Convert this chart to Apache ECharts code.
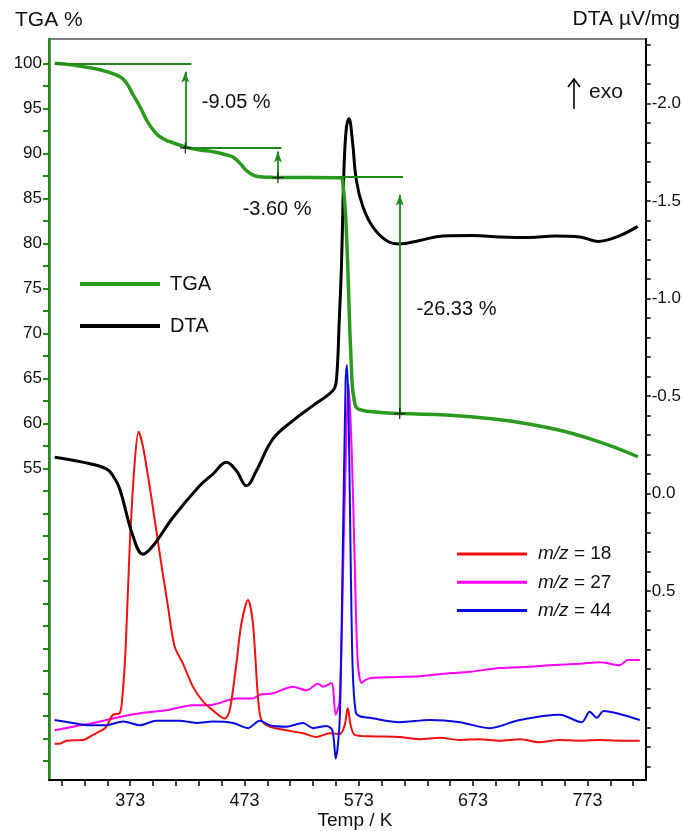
<!DOCTYPE html>
<html>
<head>
<meta charset="utf-8">
<script src="https://cdn.jsdelivr.net/npm/echarts/dist/echarts.min.js"></script>
<style>
  html, body { margin: 0; padding: 0; background: #fff; }
  #chart { width: 684px; height: 831px; }
</style>
</head>
<body>
<div id="chart"></div>
<script>
// TGA (%), left axis
var tgaT = [307.2, 323.3, 340.7, 352.5, 364.1, 369.9, 375.7, 381.6, 387.4, 393.2, 399.1, 407.8, 416.6, 422.4, 434.1, 445.7, 457.4, 463.2, 469.1, 474.9, 480.7, 486.5, 498.2, 556.5, 559, 562.2, 566.5, 569.4, 575.5, 590, 608.9, 652.7, 696.4, 722.6, 748.9, 775.1, 797.0, 817.1];
var tgaVal = [100, 99.8, 99.44, 99.07, 98.5, 97.78, 96.48, 95.18, 93.7, 92.59, 91.84, 91.29, 90.92, 90.66, 90.37, 90.18, 89.81, 89.56, 88.89, 88.07, 87.59, 87.4, 87.33, 87.29, 86.8, 81.1, 66.3, 62.25, 61.48, 61.25, 61.1, 60.92, 60.41, 59.91, 59.24, 58.3, 57.35, 56.3];

// DTA (µV/mg), right axis (inverted)
var dtaT = [307, 331.4, 352.2, 357.7, 363.8, 375.4, 384.2, 393, 410.4, 433.8, 445.4, 457.2, 465.9, 474.7, 483.4, 497.9, 515.4, 532.9, 550.4, 553.4, 555.9, 557.8, 560.1, 562.2, 564.4, 567.4, 570.9, 576.7, 585.4, 597.1, 608.8, 626.3, 646.7, 672.9, 696.3, 722.5, 744.4, 766.3, 782.1, 799.5, 817];
var dtaVal = [-0.185, -0.16, -0.126, -0.092, -0.024, 0.218, 0.312, 0.269, 0.124, -0.039, -0.099, -0.159, -0.116, -0.039, -0.116, -0.279, -0.373, -0.45, -0.527, -0.578, -0.886, -1.16, -1.673, -1.878, -1.921, -1.81, -1.605, -1.468, -1.365, -1.297, -1.279, -1.297, -1.32, -1.322, -1.315, -1.312, -1.32, -1.315, -1.292, -1.317, -1.369];

// MS ion currents (arbitrary units)
var ms18T = [306.9, 311.3, 317.2, 331.7, 340.5, 349.2, 352.2, 358.0, 363.8, 366.2, 369.1, 372.6, 376.9, 380.4, 384.2, 391.5, 398.8, 406.1, 411.9, 419.2, 427.9, 436.7, 445.4, 455.7, 460.1, 465.9, 470.3, 476.1, 480.4, 484.8, 487.8, 495.0, 509.7, 524.2, 535.9, 547.5, 556.3, 560.7, 563.3, 565.9, 569.4, 582.5, 608.8, 626.3, 643.8, 661.3, 678.8, 696.3, 713.8, 731.3, 748.8, 766.3, 783.8, 801.3, 818.8];
var ms18Val = [4.9, 4.9, 5.3, 5.4, 6.1, 6.8, 7.2, 8.8, 9.0, 11.2, 18.0, 31.5, 42.7, 47.0, 45.0, 38.2, 30.6, 23.4, 18.0, 15.7, 12.6, 10.6, 9.4, 8.3, 9.4, 15.7, 21.1, 24.3, 21.1, 11.2, 8.1, 7.2, 6.7, 6.3, 5.8, 6.3, 6.2, 7.4, 9.7, 7.4, 6.1, 5.9, 5.8, 5.5, 5.7, 5.4, 5.5, 5.3, 5.5, 5.1, 5.4, 5.3, 5.4, 5.3, 5.3];

var ms27T = [306.9, 323.0, 340.5, 358.0, 381.3, 404.7, 427.9, 442.6, 451.3, 465.9, 480.4, 486.3, 497.9, 515.4, 527.2, 537.3, 541.7, 549.0, 552.8, 556.3, 560.7, 564.2, 566.8, 569.4, 572.0, 575.5, 579.0, 584.3, 608.8, 626.3, 652.5, 670, 696.3, 722.5, 740.1, 766.3, 783.8, 801.3, 808.3, 818.8];
var ms27Val = [6.7, 7.2, 7.7, 8.3, 9.0, 9.4, 10.1, 10.1, 10.4, 11.0, 11.0, 11.5, 11.7, 12.6, 12.1, 13.0, 12.6, 13.1, 8.8, 10.8, 37.8, 53.3, 44.5, 29.7, 16.2, 13.1, 13.5, 13.8, 13.9, 14.0, 14.4, 14.6, 15.1, 15.3, 15.5, 15.7, 15.9, 15.5, 16.2, 16.2];

var ms44T = [306.9, 323.0, 337.6, 352.2, 366.7, 381.3, 395.9, 416.3, 430.9, 445.4, 462.9, 476.1, 486.3, 495.0, 509.7, 524.2, 532.9, 544.7, 549.9, 552.8, 556.3, 558.9, 561.5, 562.7, 564.2, 565.9, 567.7, 570.3, 573.8, 582.5, 608.8, 635.0, 661.3, 687.5, 713.8, 748.8, 768.0, 775.0, 781.1, 787.3, 801.3, 818.8];
var ms44Val = [8.1, 7.7, 7.4, 7.4, 7.9, 7.4, 8.0, 8.0, 7.7, 7.9, 7.7, 7.0, 8.0, 7.4, 7.2, 7.7, 7.0, 7.3, 6.7, 2.9, 8.1, 29.7, 54.0, 56.0, 48.6, 29.7, 14.8, 9.2, 8.6, 8.4, 7.8, 8.1, 7.8, 7.0, 8.1, 8.8, 7.8, 9.2, 8.4, 9.3, 8.9, 8.1];

// TGA step annotations
var stepLevel = [100, 90.67, 87.37];
var stepFrom = [307, 419, 556];
var stepTo = [426.5, 505.3, 611.7];
var arrowT = [421.3, 502.3, 608.8];
var arrowFrom = [90.6, 87.3, 61.1];
var arrowTo = [99.05, 90.2, 85.4];
var stepText = ['-9.05 %', '-3.60 %', '-26.33 %'];
var stepTextT = [435.6, 471.4, 623.4];
var stepTextVal = [95.7, 83.8, 72.7];

// axis ticks / labels
var xLabels = [373, 473, 573, 673, 773];
var tgaLabels = [55, 60, 65, 70, 75, 80, 85, 90, 95, 100];
var dtaLabels = [-2.0, -1.5, -1.0, -0.5, 0.0, 0.5];

var xTicks = [];
for (var t = 313; t <= 813; t += 20) xTicks.push(t);
var tgaTicks = [];
for (var k = 9; k <= 40; k++) tgaTicks.push(k * 2.5);
var dtaTicks = [];
for (var d = -23; d <= 14; d++) dtaTicks.push(d / 10);

function zip(a, b) {
  return a.map(function (v, i) { return [v, b[i]]; });
}

var GREEN = '#2a9a1e';
var GREEN_DARK = '#1f8a1a';
var FONT = 'Liberation Sans, Arial, sans-serif';

var stepLines = [];
for (var i = 0; i < stepLevel.length; i++) {
  stepLines.push([{ coord: [stepFrom[i], stepLevel[i]] }, { coord: [stepTo[i], stepLevel[i]] }]);
  stepLines.push([
    { coord: [arrowT[i], arrowFrom[i]] },
    { coord: [arrowT[i], arrowTo[i]], symbol: 'arrow', symbolSize: [6, 11] }
  ]);
}

var baseGraphic = [
  { type: 'text', left: 15, top: 10, style: { text: 'TGA %', fontSize: 21, fill: '#111', fontFamily: FONT } },
  { type: 'text', right: 4, top: 9, style: { text: 'DTA \u00b5V/mg', fontSize: 21, fill: '#111', fontFamily: FONT } },
  { type: 'text', x: 355, y: 821, style: { text: 'Temp / K', fontSize: 19, fill: '#111', fontFamily: FONT, align: 'center', verticalAlign: 'middle' } },
  { type: 'line', shape: { x1: 574, y1: 109, x2: 574, y2: 80 }, style: { stroke: '#000', lineWidth: 1.6 } },
  { type: 'polyline', shape: { points: [[568, 87], [574, 79], [580, 87]] }, style: { stroke: '#000', lineWidth: 1.6, fill: null } },
  { type: 'text', left: 589, top: 82, style: { text: 'exo', fontSize: 21, fill: '#111', fontFamily: FONT } }
];

var chart = echarts.init(document.getElementById('chart'));
chart.setOption({
  animation: false,
  backgroundColor: '#fff',
  textStyle: { fontFamily: FONT },
  grid: {
    left: 49, right: 38, top: 39, bottom: 51,
    show: true, borderColor: '#000', borderWidth: 1.2, backgroundColor: 'transparent'
  },
  legend: [
    {
      data: ['TGA', 'DTA'],
      orient: 'vertical', left: 80, top: 274, padding: 0,
      itemWidth: 80, itemHeight: 4, itemGap: 22, icon: 'rect',
      selectedMode: false,
      textStyle: { fontSize: 20, color: '#111', lineHeight: 20, padding: [0, 0, 0, 5], fontFamily: FONT }
    },
    {
      data: ['m/z = 18', 'm/z = 27', 'm/z = 44'],
      orient: 'vertical', left: 457, top: 544, padding: 0,
      itemWidth: 70, itemHeight: 3, itemGap: 8.3, icon: 'rect',
      selectedMode: false,
      formatter: function (name) { return '{i|m/z}' + name.slice(3); },
      textStyle: {
        fontSize: 19, color: '#111', lineHeight: 20, padding: [0, 0, 0, 6], fontFamily: FONT,
        rich: { i: { fontStyle: 'italic', fontSize: 19, fontFamily: FONT, color: '#111' } }
      }
    }
  ],
  xAxis: {
    type: 'value', min: 302, max: 824,
    axisLine: { onZero: false, lineStyle: { color: '#000', width: 2 } },
    axisTick: { customValues: xTicks, length: 6, lineStyle: { color: '#000', width: 1.5 } },
    axisLabel: { customValues: xLabels, fontSize: 18, color: '#111', margin: 12, fontFamily: FONT },
    splitLine: { show: false }
  },
  yAxis: [
    {
      type: 'value', position: 'left', min: 20.4, max: 102.7,
      axisLine: { show: true, onZero: false, lineStyle: { color: GREEN_DARK, width: 2.5 } },
      axisTick: { customValues: tgaTicks, length: 6, lineStyle: { color: GREEN_DARK, width: 2 } },
      axisLabel: { customValues: tgaLabels, fontSize: 17, color: '#111', margin: 7, fontFamily: FONT },
      splitLine: { show: false }
    },
    {
      type: 'value', position: 'right', inverse: true, min: -2.33, max: 1.47,
      axisLine: { show: true, onZero: false, lineStyle: { color: '#000', width: 2 } },
      axisTick: { customValues: dtaTicks, length: 5, lineStyle: { color: '#000', width: 1.5 } },
      axisLabel: {
        customValues: dtaLabels, fontSize: 17, color: '#111', margin: 6, fontFamily: FONT,
        formatter: function (v) { return v.toFixed(1); }
      },
      splitLine: { show: false }
    },
    { type: 'value', show: false, min: 0, max: 100 }
  ],
  series: [
    {
      name: 'm/z = 27', type: 'line', yAxisIndex: 2, data: zip(ms27T, ms27Val),
      showSymbol: false, smooth: 0.3, color: '#ff00ff', lineStyle: { width: 2 }, silent: true
    },
    {
      name: 'm/z = 18', type: 'line', yAxisIndex: 2, data: zip(ms18T, ms18Val),
      showSymbol: false, smooth: 0.3, color: '#f01010', lineStyle: { width: 2 }, silent: true
    },
    {
      name: 'm/z = 44', type: 'line', yAxisIndex: 2, data: zip(ms44T, ms44Val),
      showSymbol: false, smooth: 0.3, color: '#0a0ae0', lineStyle: { width: 2 }, silent: true
    },
    {
      name: 'DTA', type: 'line', yAxisIndex: 1, data: zip(dtaT, dtaVal),
      showSymbol: false, smooth: 0.4, color: '#000', lineStyle: { width: 3 }, silent: true
    },
    {
      name: 'TGA', type: 'line', yAxisIndex: 0, data: zip(tgaT, tgaVal),
      showSymbol: false, smooth: 0.5, color: GREEN, lineStyle: { width: 3.5 }, silent: true,
      markLine: {
        silent: true, symbol: ['none', 'none'],
        label: { show: false },
        lineStyle: { color: GREEN_DARK, width: 1.8, type: 'solid' },
        emphasis: { disabled: true },
        data: stepLines
      }
    },
    {
      name: 'steps', type: 'scatter', yAxisIndex: 0, silent: true,
      data: zip(arrowT, arrowFrom),
      symbol: 'path://M4.4,0h1.2v4.4h4.4v1.2h-4.4v4.4h-1.2v-4.4h-4.4v-1.2h4.4z',
      symbolSize: 11, itemStyle: { color: '#000' }, z: 5
    }
  ],
  graphic: baseGraphic
});

// step labels placed through the axis scales
var labelGraphic = stepText.map(function (s, i) {
  var p = chart.convertToPixel({ xAxisIndex: 0, yAxisIndex: 0 }, [stepTextT[i], stepTextVal[i]]);
  return {
    type: 'text', x: p[0], y: p[1],
    style: { text: s, fontSize: 20, fill: '#111', fontFamily: FONT, verticalAlign: 'middle' }
  };
});
chart.setOption({ graphic: baseGraphic.concat(labelGraphic) });
</script>
</body>
</html>
